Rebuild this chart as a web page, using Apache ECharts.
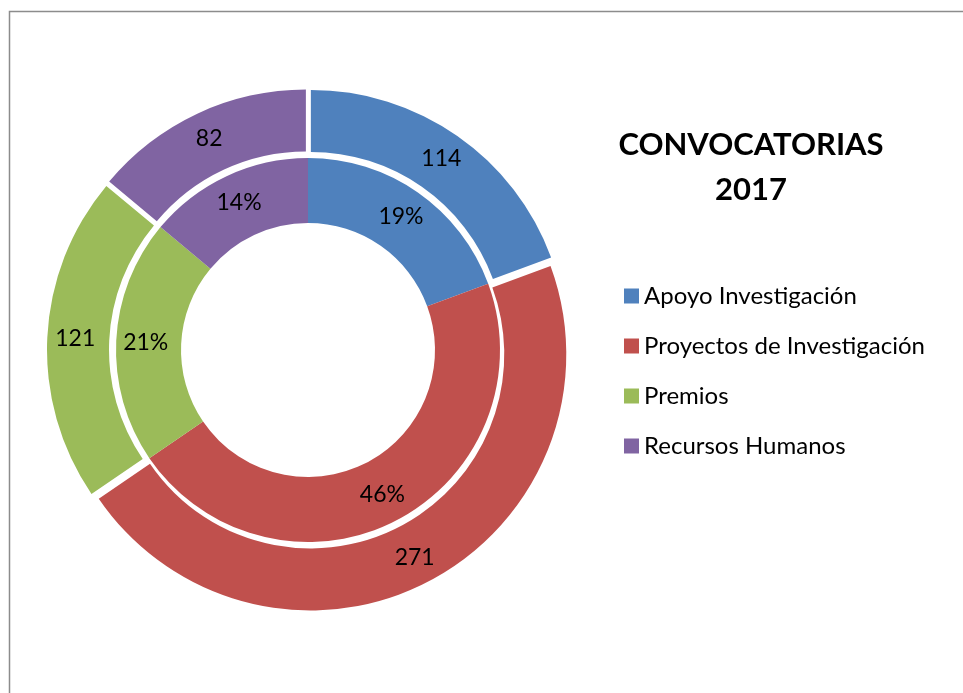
<!DOCTYPE html>
<html>
<head>
<meta charset="utf-8">
<script src="https://cdn.jsdelivr.net/npm/echarts@6/dist/echarts.min.js"></script>
<style>
  html, body { margin: 0; padding: 0; background: #fff; }
  #chart { width: 963px; height: 693px; }
</style>
</head>
<body>
<div id="chart"></div>
<script>
// Datos de convocatorias 2017
const categories = ['Apoyo Investigación', 'Proyectos de Investigación', 'Premios', 'Recursos Humanos'];
const values = [114, 271, 121, 82];
const colors = ['#4F81BD', '#C0504D', '#9BBB59', '#8064A2'];
const titleLines = ['CONVOCATORIAS', '2017'];

const FONT = 'Lato, "Open Sans", sans-serif';

const chart = echarts.init(document.getElementById('chart'), null, { renderer: 'canvas' });

const innerData = categories.map((name, i) => ({ name, value: values[i] }));
const outerData = categories.map((name, i) => ({ name, value: values[i], selected: true }));

chart.setOption({
  animation: false,
  backgroundColor: '#fff',
  color: colors,
  legend: {
    orient: 'vertical',
    left: 619,
    top: 279,
    icon: 'rect',
    itemWidth: 15,
    itemHeight: 15,
    itemGap: 26,
    selectedMode: false,
    data: categories,
    textStyle: { color: '#000', fontSize: 24, fontFamily: FONT }
  },
  graphic: [
    {
      type: 'rect',
      silent: true,
      shape: { x: 9.5, y: 11.5, width: 1200, height: 1200 },
      style: { fill: 'none', stroke: '#8c8c8c', lineWidth: 1.5 }
    },
    {
      type: 'text',
      silent: true,
      style: {
        text: titleLines[0], x: 751, y: 145, textAlign: 'center', textVerticalAlign: 'middle',
        fill: '#000', font: 'bold 31px ' + FONT
      }
    },
    {
      type: 'text',
      silent: true,
      style: {
        text: titleLines[1], x: 751, y: 190, textAlign: 'center', textVerticalAlign: 'middle',
        fill: '#000', font: 'bold 31px ' + FONT
      }
    }
  ],
  series: [
    {
      name: 'inner',
      type: 'pie',
      silent: true,
      center: [308, 350],
      radius: [127, 192],
      startAngle: 90,
      clockwise: true,
      label: {
        position: 'inside',
        color: '#000',
        fontSize: 23,
        fontFamily: FONT,
        formatter: (p) => Math.round(p.percent) + '%'
      },
      labelLine: { show: false },
      data: innerData
    },
    {
      name: 'outer',
      type: 'pie',
      silent: true,
      center: [308, 350],
      radius: [194, 256],
      startAngle: 90,
      clockwise: true,
      selectedMode: 'multiple',
      selectedOffset: 5,
      select: { itemStyle: { borderWidth: 0 } },
      label: {
        position: 'inside',
        color: '#000',
        fontSize: 23,
        fontFamily: FONT,
        formatter: '{c}'
      },
      labelLine: { show: false },
      data: outerData
    }
  ]
});
</script>
</body>
</html>
